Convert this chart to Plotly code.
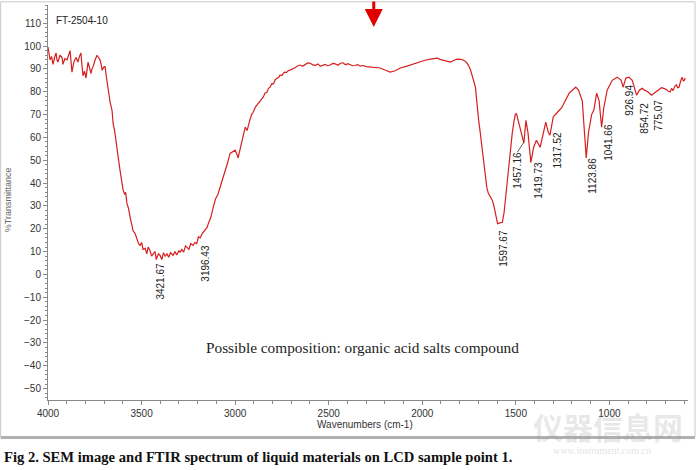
import plotly.graph_objects as go

# ---------------- data ----------------
wavenumber = [
    4000, 3994, 3989, 3981, 3973, 3965, 3957, 3952, 3947, 3936, 3925, 3920, 3910, 3898, 3890, 3882,
    3872, 3862, 3850, 3840, 3832, 3824, 3818, 3813, 3805, 3797, 3786, 3778, 3770, 3765, 3759, 3748,
    3738, 3730, 3722, 3716, 3711, 3700, 3695, 3689, 3684, 3679, 3673, 3668, 3658, 3652, 3644, 3636,
    3626, 3615, 3607, 3599, 3590, 3585, 3578, 3570, 3561, 3553, 3545, 3535, 3524, 3516, 3508, 3500,
    3492, 3481, 3472, 3465, 3455, 3446, 3438, 3428, 3421.67, 3410, 3401, 3392, 3383, 3374, 3364, 3355,
    3345, 3332, 3322, 3312, 3300, 3294, 3285, 3275, 3265, 3257, 3247, 3237, 3225, 3215, 3205, 3196.43,
    3187, 3175, 3165, 3150, 3140, 3130, 3118, 3105, 3092, 3080, 3068, 3053, 3040, 3027, 3012, 3000,
    2990, 2984, 2973, 2962, 2954, 2946, 2936, 2928, 2920, 2912, 2904, 2890, 2877, 2864, 2850, 2840,
    2830, 2822, 2813, 2804, 2795, 2785, 2775, 2767, 2760, 2750, 2743, 2735, 2725, 2715, 2706, 2695,
    2680, 2667, 2652, 2640, 2625, 2612, 2599, 2585, 2570, 2558, 2545, 2532, 2520, 2505, 2492, 2478,
    2465, 2450, 2438, 2424, 2410, 2398, 2385, 2372, 2360, 2345, 2331, 2315, 2300, 2278, 2250, 2224,
    2200, 2171, 2145, 2117, 2090, 2064, 2040,
    2011, 1985, 1957, 1940, 1920, 1905, 1888, 1870, 1850, 1830, 1813, 1795, 1781, 1765, 1754, 1742,
    1732, 1722, 1716, 1710, 1706, 1698, 1690, 1682, 1674, 1668, 1663, 1655, 1647, 1635, 1626, 1617,
    1609, 1600, 1597.67, 1585, 1572, 1563, 1556, 1548, 1540, 1530, 1519, 1510, 1503, 1497, 1492, 1485,
    1476, 1466, 1457.16, 1446, 1435, 1419.73, 1405, 1390, 1370, 1340, 1326, 1317.52, 1300, 1282, 1255,
    1215, 1180, 1165, 1145, 1133, 1123.86, 1112, 1095, 1083, 1068, 1055, 1041.66, 1030, 1012, 985,
    958, 937, 926.94, 912, 895, 878, 854.72, 840, 825, 812, 795, 775.07, 760, 745, 735, 722, 710, 695,
    685, 675, 668, 660, 650, 642, 635, 628, 620, 612, 605, 600, 595,
]
transmittance = [
    99.6, 96, 94, 95.5, 92, 95, 97, 94, 93, 96, 95, 92, 94.5, 94, 96, 98,
    88.6, 93, 95, 93, 95.5, 97, 91, 87, 89, 86, 93, 90, 88, 90, 91, 94,
    96, 95, 94, 92, 89.5, 91, 91, 87, 84, 80.7, 79, 75.4, 72, 66, 63, 59,
    52, 45.6, 41, 37, 35, 36, 31, 29, 25, 22, 19, 18, 15, 13.5, 12.7, 14,
    11, 11.4, 9, 12, 10.5, 8, 9, 10, 6.5, 9, 8.3, 6.5, 9.5, 8, 9, 7.5,
    9.5, 8.3, 10, 8.5, 10.5, 9.6, 11, 9.8, 12.5, 12, 11, 13.5, 12.7, 14, 13.5, 16.5,
    16, 18, 19, 20.6, 23, 25, 29, 33, 35, 38, 41, 45, 49, 53, 54, 54.4,
    52.5, 51, 55, 58.8, 62, 64.5, 63, 66, 68, 70, 71, 73.5, 75, 76.5, 77.6, 79.5,
    79.8, 81.5, 82, 83.6, 83.5, 85.4, 86, 86.3, 87.4, 87.1, 88, 88.6, 88.5, 89.3, 89.5, 89.9,
    90.5, 91.3, 91.7, 91.2, 92, 92.6, 92.5, 91.8, 91.6, 92.2, 91.2, 91.8, 92, 91.4, 91.7, 92.4,
    92.2, 91.6, 92.5, 92.7, 91.8, 92.3, 92, 91.4, 91.5, 91.9, 91.2, 91.5, 91, 90.8, 90.6, 90.4,
    89.5, 88.6, 89.2, 90.4, 91, 91.7, 92.5,
    93, 93.8, 94.3, 94.6, 94.7, 94.2, 93.9, 93.3, 93, 93.8, 94.3, 94.2, 93.9, 93, 91.7, 89.5,
    86.4, 84, 82, 77, 73, 67, 62, 56, 51, 45, 41, 38, 35.5, 33.5, 32.5, 30,
    26.8, 23, 22.2, 22.6, 22.8, 27, 32.5, 39, 46, 55, 62, 67, 70, 70.5, 69, 66,
    64, 61, 57.5, 67.5, 62, 49, 55.7, 58.8, 55.7, 66.7, 62, 61, 69, 70.6, 73,
    79.4, 82, 80.7, 76, 62, 51, 62, 70, 72, 79.4, 76, 64.5, 73, 80.7, 85,
    86.4, 85, 82, 86, 86.4, 85, 78.5, 80.7, 81.5, 80.7, 80, 78.5, 79.4, 80.2, 80.7, 81.8, 81.5, 81,
    80.2, 80, 81.5, 80.5, 82.5, 83, 81.8, 82, 84.5, 86.4, 84.8, 85, 86,
]

peak_labels = ["3421.67", "3196.43", "1597.67", "1457.16", "1419.73", "1317.52",
               "1123.86", "1041.66", "926.94", "854.72", "775.07"]

x_tick_vals = [4000, 3500, 3000, 2500, 2000, 1500, 1000]
y_tick_vals = [-50, -40, -30, -20, -10, 0, 10, 20, 30, 40, 50, 60, 70, 80, 90, 100, 110]

# label centre positions (layout, data coords)
label_pos_x = [3401, 3160, 1567, 1492, 1380, 1278, 1091, 1005, 893, 813, 738]
label_pos_y = [-3.1, 4.8, 11.4, 45.6, 41.2, 54.4, 43.4, 57.9, 76.3, 68.4, 69.7]

# --------------- figure ---------------
fig = go.Figure()
fig.add_trace(go.Scatter(
    x=wavenumber, y=transmittance, mode="lines",
    line=dict(color="#d61f1f", width=1.2), hoverinfo="skip", showlegend=False,
))

ann = []
for txt, lx, ly in zip(peak_labels, label_pos_x, label_pos_y):
    ann.append(dict(x=lx, y=ly, xref="x", yref="y", text=txt, textangle=-90,
                    showarrow=False, xanchor="center", yanchor="middle",
                    font=dict(family="Liberation Sans", size=10, color="#222")))

# sample name
ann.append(dict(x=0.01, y=0.962, xref="paper", yref="paper", text="FT-2504-10",
                showarrow=False, xanchor="left", yanchor="middle",
                font=dict(family="Liberation Sans", size=10, color="#222")))
# axis titles
ann.append(dict(x=-0.0625, y=0.506, xref="paper", yref="paper", text="%Transmittance",
                textangle=-90, showarrow=False, xanchor="center", yanchor="middle",
                font=dict(family="Liberation Sans", size=9, color="#666")))
ann.append(dict(x=0.495, y=-0.063, xref="paper", yref="paper", text="Wavenumbers (cm-1)",
                showarrow=False, xanchor="center", yanchor="middle",
                font=dict(family="Liberation Sans", size=10, color="#333")))
# composition note
ann.append(dict(x=0.491, y=0.132, xref="paper", yref="paper",
                text="Possible composition: organic acid salts compound",
                showarrow=False, xanchor="center", yanchor="middle",
                font=dict(family="Liberation Serif", size=15.3, color="#222")))
# caption
ann.append(dict(x=-0.072, y=-0.144, xref="paper", yref="paper",
                text="<b>Fig 2. SEM image and FTIR spectrum of liquid materials on LCD sample point 1.</b>",
                showarrow=False, xanchor="left", yanchor="middle",
                font=dict(family="Liberation Serif", size=14.6, color="#111")))
# watermark
ann.append(dict(x=0.875, y=-0.065, xref="paper", yref="paper", text="<b>仪器信息网</b>",
                showarrow=False, xanchor="center", yanchor="middle",
                font=dict(family="Noto Sans CJK SC", size=30, color="rgba(150,150,150,0.22)")))
ann.append(dict(x=0.865, y=-0.128, xref="paper", yref="paper", text="www.instrument.com.cn",
                showarrow=False, xanchor="center", yanchor="middle",
                font=dict(family="Liberation Serif", size=10, color="rgba(150,150,150,0.3)")))
# red arrow
ann.append(dict(x=0.509, y=0.944, xref="paper", yref="paper", ax=0, ay=-27,
                text="", showarrow=True, arrowhead=2, arrowsize=1.2, arrowwidth=3,
                arrowcolor="#e00000"))

shapes = [
    # leader line for 1457.16
    dict(type="line", xref="x", yref="y", x0=1492, y0=53.5, x1=1458, y1=57.8,
         line=dict(color="#333", width=0.8)),
    # outer frame
    dict(type="rect", xref="paper", yref="paper", x0=-0.074, y0=-0.093, x1=1.011, y1=1.008,
         line=dict(color="#c8c8c8", width=1)),
    dict(type="line", xref="paper", yref="paper", x0=-0.074, y0=-0.095, x1=1.011, y1=-0.095,
         line=dict(color="#b0b0b0", width=3)),
]

fig.update_layout(
    width=700, height=470,
    margin=dict(l=48, r=12, t=5, b=70),
    paper_bgcolor="white", plot_bgcolor="white",
    annotations=ann, shapes=shapes,
    xaxis=dict(range=[4000, 580], tickvals=x_tick_vals, showgrid=False, zeroline=False,
               showline=True, linecolor="#888", linewidth=1,
               ticks="outside", ticklen=4, tickcolor="#888",
               minor=dict(dtick=100, ticks="outside", ticklen=3, tickcolor="#888"),
               tickfont=dict(family="Liberation Sans", size=10, color="#333")),
    yaxis=dict(range=[-55, 118], tickvals=y_tick_vals, showgrid=False, zeroline=False,
               showline=True, linecolor="#888", linewidth=1,
               ticks="outside", ticklen=4, tickcolor="#888",
               minor=dict(dtick=2, ticks="outside", ticklen=2, tickcolor="#888"),
               tickfont=dict(family="Liberation Sans", size=10, color="#333")),
)

fig.write_html("out.html")
